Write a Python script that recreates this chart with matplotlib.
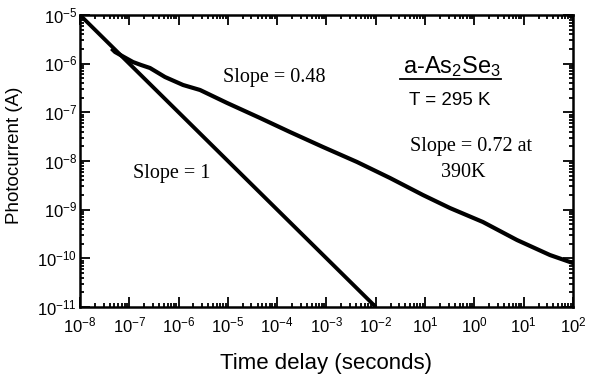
import numpy as np
import matplotlib
matplotlib.use('Agg')
import matplotlib.pyplot as plt
from matplotlib.ticker import LogLocator, NullFormatter

plt.rcParams['mathtext.fontset'] = 'custom'
plt.rcParams['mathtext.rm'] = 'Liberation Sans'
plt.rcParams['mathtext.it'] = 'Liberation Sans'
plt.rcParams['mathtext.default'] = 'rm'

# photocurrent transient
time_s = [4.67e-8, 5.13e-8, 7.80e-8, 1.19e-7, 1.73e-7, 2.63e-7, 5.30e-7, 1.23e-6,
          2.72e-6, 9.6e-6, 4.48e-5, 1.82e-4, 8.5e-4, 4.16e-3, 1.94e-2, 9.06e-2,
          0.32, 1.49, 7.31, 34.1, 100.0]
current_a = [1.91e-6, 1.74e-6, 1.37e-6, 1.08e-6, 9.4e-7, 8.15e-7, 5.32e-7, 3.65e-7,
             2.88e-7, 1.56e-7, 7.66e-8, 3.94e-8, 1.94e-8, 9.55e-9, 4.48e-9, 2.0e-9,
             1.08e-9, 5.58e-10, 2.38e-10, 1.17e-10, 8.0e-11]

# slope = 1 reference line
ref_t = [1e-8, 1e-2]
ref_i = [1e-5, 1e-11]

xtick_pos = [1e-8, 1e-7, 1e-6, 1e-5, 1e-4, 1e-3, 1e-2, 1e-1, 1e0, 1e1, 1e2]
xtick_lab = [r'$10^{-8}$', r'$10^{-7}$', r'$10^{-6}$', r'$10^{-5}$', r'$10^{-4}$',
             r'$10^{-3}$', r'$10^{-2}$', r'$10^{1}$', r'$10^{0}$', r'$10^{1}$', r'$10^{2}$']
ytick_pos = [1e-11, 1e-10, 1e-9, 1e-8, 1e-7, 1e-6, 1e-5]
ytick_lab = [r'$10^{-11}$', r'$10^{-10}$', r'$10^{-9}$', r'$10^{-8}$',
             r'$10^{-7}$', r'$10^{-6}$', r'$10^{-5}$']

fig = plt.figure(figsize=(5.91, 3.87), dpi=100)
ax = fig.add_axes([0.1354, 0.2067, 0.8341, 0.7545])

ax.plot(ref_t, ref_i, color='black', linewidth=2.8, solid_capstyle='butt')
ax.plot(time_s, current_a, color='black', linewidth=3.0, solid_joinstyle='round')

ax.set_xscale('log')
ax.set_yscale('log')
ax.set_xlim(1e-8, 1e2)
ax.set_ylim(1e-11, 1e-5)

ax.set_xticks(xtick_pos, xtick_lab)
ax.set_yticks(ytick_pos, ytick_lab)
ax.xaxis.set_minor_locator(LogLocator(base=10, subs=np.arange(2, 10), numticks=20))
ax.yaxis.set_minor_locator(LogLocator(base=10, subs=np.arange(2, 10), numticks=20))
ax.xaxis.set_minor_formatter(NullFormatter())
ax.yaxis.set_minor_formatter(NullFormatter())

ax.tick_params(which='both', direction='in', top=True, right=True, width=1.3, colors='black')
ax.tick_params(which='major', length=7, labelsize=12)
ax.tick_params(which='minor', length=3)
ax.tick_params(axis='x', which='major', pad=7)
ax.tick_params(axis='y', which='major', pad=2)

for sp in ax.spines.values():
    sp.set_linewidth(1.8)

ax.set_xlabel('Time delay (seconds)', fontsize=16, family='Liberation Sans', labelpad=12)
ax.set_ylabel('Photocurrent (A)', fontsize=13.5, family='Liberation Sans', labelpad=4)
ax.yaxis.set_label_coords(-0.115, 0.52)

serif = 'Liberation Serif'
ax.text(10**-4.05, 10**-6.29, 'Slope = 0.48', fontsize=14.5, family=serif, ha='center', va='center')
ax.text(10**-6.15, 10**-8.25, 'Slope = 1', fontsize=14.5, family=serif, ha='center', va='center')
ax.text(10**-0.07, 10**-7.71, 'Slope = 0.72 at', fontsize=14.5, family=serif, ha='center', va='center')
ax.text(10**-0.23, 10**-8.23, '390K', fontsize=14.5, family=serif, ha='center', va='center')

ax.text(10**-0.45, 10**-6.05, r'a-As$_2$Se$_3$', fontsize=17, family='Liberation Sans',
        ha='center', va='center')
ax.plot([10**-1.51, 10**0.54], [10**-6.31, 10**-6.31], color='black', linewidth=1.3)
ax.text(10**-0.49, 10**-6.75, 'T = 295 K', fontsize=13.5, family='Liberation Sans',
        ha='center', va='center')

fig.savefig('out.png', dpi=100)
